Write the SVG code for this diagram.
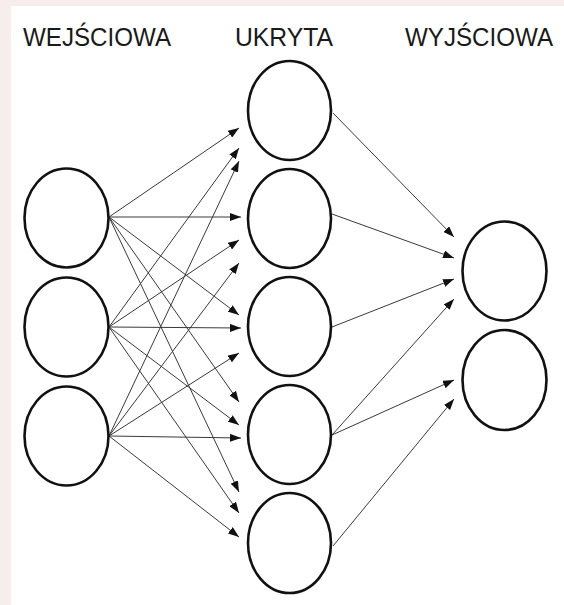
<svg xmlns="http://www.w3.org/2000/svg" width="564" height="605" viewBox="0 0 564 605">
  <style>
    .node { fill: #ffffff; stroke: #111111; stroke-width: 2.6; }
    .edge { stroke: #3a3a3a; stroke-width: 1; fill: none; marker-end: url(#arrow); }
    .label { font-family: "Liberation Sans", Arial, sans-serif; font-size: 25px; fill: #1a1a1a; }
  </style>
  <defs>
    <marker id="arrow" markerUnits="userSpaceOnUse" markerWidth="12" markerHeight="8" refX="11" refY="4" orient="auto">
      <path d="M0,0 L11,4 L0,8 z" fill="#111111"/>
    </marker>
  </defs>
  <rect x="0" y="0" width="564" height="605" fill="#f6eded"/>
  <rect x="11" y="6" width="553" height="599" fill="#ffffff"/>

  <g id="titles">
    <text class="label" x="23" y="46" textLength="148" lengthAdjust="spacingAndGlyphs">WEJŚCIOWA</text>
    <text class="label" x="235" y="46" textLength="98" lengthAdjust="spacingAndGlyphs">UKRYTA</text>
    <text class="label" x="405" y="46" textLength="148" lengthAdjust="spacingAndGlyphs">WYJŚCIOWA</text>
  </g>

  <g id="connectors">
    <line class="edge" x1="109" y1="217" x2="239" y2="128"/>
    <line class="edge" x1="109" y1="217" x2="241" y2="217"/>
    <line class="edge" x1="109" y1="217" x2="239" y2="315"/>
    <line class="edge" x1="109" y1="217" x2="239" y2="402"/>
    <line class="edge" x1="109" y1="217" x2="239" y2="492"/>
    <line class="edge" x1="109" y1="327" x2="239" y2="148"/>
    <line class="edge" x1="109" y1="327" x2="239" y2="240"/>
    <line class="edge" x1="109" y1="327" x2="241" y2="328"/>
    <line class="edge" x1="109" y1="327" x2="239" y2="425"/>
    <line class="edge" x1="109" y1="327" x2="239" y2="513"/>
    <line class="edge" x1="109" y1="436" x2="239" y2="161"/>
    <line class="edge" x1="109" y1="436" x2="239" y2="263"/>
    <line class="edge" x1="109" y1="436" x2="239" y2="353"/>
    <line class="edge" x1="109" y1="436" x2="241" y2="438"/>
    <line class="edge" x1="109" y1="436" x2="239" y2="537"/>
    <line class="edge" x1="333" y1="113" x2="454" y2="237"/>
    <line class="edge" x1="332" y1="214" x2="454" y2="258"/>
    <line class="edge" x1="332" y1="327" x2="454" y2="279"/>
    <line class="edge" x1="332" y1="435" x2="454" y2="299"/>
    <line class="edge" x1="332" y1="435" x2="454" y2="380"/>
    <line class="edge" x1="333" y1="546" x2="454" y2="399"/>
  </g>

  <g id="input-1"><ellipse class="node" cx="66.5" cy="218" rx="42" ry="49.5"/></g>
  <g id="input-2"><ellipse class="node" cx="66.5" cy="327" rx="42" ry="49.5"/></g>
  <g id="input-3"><ellipse class="node" cx="66.5" cy="436" rx="42" ry="49.5"/></g>

  <g id="hidden-1"><ellipse class="node" cx="289.5" cy="110.5" rx="41.5" ry="49.5"/></g>
  <g id="hidden-2"><ellipse class="node" cx="289.5" cy="218.5" rx="41.5" ry="49.5"/></g>
  <g id="hidden-3"><ellipse class="node" cx="289.5" cy="326.5" rx="41.5" ry="49.5"/></g>
  <g id="hidden-4"><ellipse class="node" cx="289.5" cy="434.5" rx="41.5" ry="49.5"/></g>
  <g id="hidden-5"><ellipse class="node" cx="289.5" cy="543" rx="41.5" ry="50"/></g>

  <g id="output-1"><ellipse class="node" cx="504.5" cy="271" rx="42" ry="49.5"/></g>
  <g id="output-2"><ellipse class="node" cx="504.5" cy="380" rx="42" ry="50"/></g>
</svg>
